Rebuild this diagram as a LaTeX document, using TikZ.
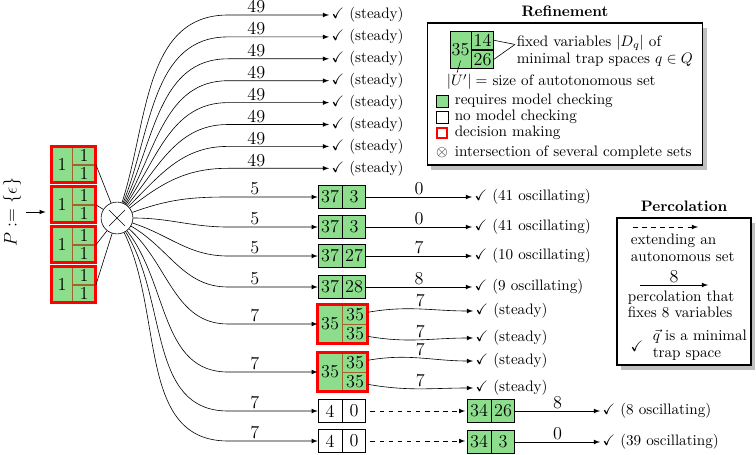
\documentclass[tikz,border=0pt]{standalone}
\usepackage{amssymb}
\usetikzlibrary{positioning,shadows,shapes.misc}

\definecolor{mcgreen}{RGB}{140,222,140}
\definecolor{splitline}{RGB}{160,100,40}

\tikzset{
  cell/.style={draw, fill=mcgreen, inner sep=0pt, font=\large, minimum height=15.2pt},
  nocheck/.style={cell, fill=white},
  dcell/.style={cell, draw=splitline},
  decision/.style={draw=red, line width=2pt},
  arr/.style={-latex},
  lbl/.style={above, inner sep=1pt, font=\large},
  res/.style={anchor=west, inner sep=1.5pt},
  txt/.style={anchor=west, align=left, inner sep=1pt},
  keybox/.style={draw, thick, fill=white,
    drop shadow={shadow xshift=2.5pt, shadow yshift=-3pt, fill=black!50, opacity=0.5}},
}

\begin{document}
\begin{tikzpicture}[x=0.66pt,y=0.66pt]
        \useasboundingbox (0,0) rectangle (756,-455);

        % Start
        \node [rotate=90, font=\large] (p) at (12,-212) {$P:=\{\epsilon\}$};

        % Initial complete sets
        \node [dcell, minimum width=13.2pt, minimum height=23.1pt] (i1) at (62,-164.5) {1};
        \node [dcell, minimum width=15.2pt, minimum height=11.55pt, below right=0pt and 0pt of i1.north east] (i1t) {1};
        \node [dcell, minimum width=15.2pt, minimum height=11.55pt, below=0pt of i1t] (i1b) {1};
        \draw [decision] (i1.north west) rectangle (i1b.south east);

        \node [dcell, minimum width=13.2pt, minimum height=23.1pt] (i2) at (62,-204.5) {1};
        \node [dcell, minimum width=15.2pt, minimum height=11.55pt, below right=0pt and 0pt of i2.north east] (i2t) {1};
        \node [dcell, minimum width=15.2pt, minimum height=11.55pt, below=0pt of i2t] (i2b) {1};
        \draw [decision] (i2.north west) rectangle (i2b.south east);

        \node [dcell, minimum width=13.2pt, minimum height=23.1pt] (i3) at (62,-244.5) {1};
        \node [dcell, minimum width=15.2pt, minimum height=11.55pt, below right=0pt and 0pt of i3.north east] (i3t) {1};
        \node [dcell, minimum width=15.2pt, minimum height=11.55pt, below=0pt of i3t] (i3b) {1};
        \draw [decision] (i3.north west) rectangle (i3b.south east);

        \node [dcell, minimum width=13.2pt, minimum height=23.1pt] (i4) at (62,-284.5) {1};
        \node [dcell, minimum width=15.2pt, minimum height=11.55pt, below right=0pt and 0pt of i4.north east] (i4t) {1};
        \node [dcell, minimum width=15.2pt, minimum height=11.55pt, below=0pt of i4t] (i4b) {1};
        \draw [decision] (i4.north west) rectangle (i4b.south east);

        \draw [arr, shorten >=4pt] (p) -- (p -| i2.west);

        % Intersection
        \node [circle, draw, minimum size=21pt, inner sep=0pt] (x) at (117,-218) {};
        \node [cross out, draw, minimum size=10pt, inner sep=0pt] (xc) at (x) {};
        \draw (i1t.south east) -- (x);
        \draw (i2t.south east) -- (x);
        \draw (i3t.south east) -- (x);
        \draw (i4t.south east) -- (x);

        \coordinate (bend) at (228,0);

        % Steady branches
        \foreach \y/\a [count=\i] in {15/72, 36.9/68, 58.8/64, 80.7/60, 102.6/56, 124.5/51, 146.4/45, 168.3/38} {
            \node [res] (s\i) at (329,-\y) {\checkmark\ (steady)};
            \draw [arr] (x) to[out=\a, in=180] (bend |- s\i.west) -- node [lbl, pos=0.28] {49} (s\i.west);
        }

        % Row 9
        \node [cell, minimum width=15.8pt] (a9) at (330,-197) {37};
        \node [cell, minimum width=15.2pt, right=0pt of a9] (b9) {3};
        \node [res] (s9) at (472,-197) {\checkmark\ (41 oscillating)};
        \draw [arr] (x) to[out=20, in=180] (bend |- a9.west) -- node [lbl, pos=0.3] {5} (a9.west);
        \draw [arr] (b9) -- node [lbl] {0} (s9);

        % Row 10
        \node [cell, minimum width=15.8pt] (a10) at (330,-227) {37};
        \node [cell, minimum width=15.2pt, right=0pt of a10] (b10) {3};
        \node [res] (s10) at (472,-227) {\checkmark\ (41 oscillating)};
        \draw [arr] (x) to[out=0, in=180] (bend |- a10.west) -- node [lbl, pos=0.3] {5} (a10.west);
        \draw [arr] (b10) -- node [lbl] {0} (s10);

        % Row 11
        \node [cell, minimum width=15.8pt] (a11) at (330,-256) {37};
        \node [cell, minimum width=15.2pt, right=0pt of a11] (b11) {27};
        \node [res] (s11) at (472,-256) {\checkmark\ (10 oscillating)};
        \draw [arr] (x) to[out=-18, in=180] (bend |- a11.west) -- node [lbl, pos=0.3] {5} (a11.west);
        \draw [arr] (b11) -- node [lbl] {7} (s11);

        % Row 12
        \node [cell, minimum width=15.8pt] (a12) at (330,-287) {37};
        \node [cell, minimum width=15.2pt, right=0pt of a12] (b12) {28};
        \node [res] (s12) at (472,-287) {\checkmark\ (9 oscillating)};
        \draw [arr] (x) to[out=-30, in=180] (bend |- a12.west) -- node [lbl, pos=0.3] {5} (a12.west);
        \draw [arr] (b12) -- node [lbl] {8} (s12);

        % Row 13, decision
        \node [dcell, minimum width=15.8pt, minimum height=25pt] (a13) at (330,-324) {35};
        \node [dcell, minimum width=16.5pt, minimum height=12.5pt, below right=0pt and 0pt of a13.north east] (t13) {35};
        \node [dcell, minimum width=16.5pt, minimum height=12.5pt, below=0pt of t13] (u13) {35};
        \draw [decision] (a13.north west) rectangle (u13.south east);
        \node [res] (s13) at (473,-311) {\checkmark\ (steady)};
        \node [res] (r13) at (473,-338) {\checkmark\ (steady)};
        \draw [arr] (x) to[out=-42, in=180] (bend |- a13.west) -- node [lbl, pos=0.3] {7} (a13.west);
        \draw [arr] (t13) to[out=10, in=180] node [lbl] {7} (s13);
        \draw [arr] (u13) to[out=-10, in=180] node [lbl] {7} (r13);

        % Row 14, decision
        \node [dcell, minimum width=15.8pt, minimum height=25pt] (a14) at (330,-372) {35};
        \node [dcell, minimum width=16.5pt, minimum height=12.5pt, below right=0pt and 0pt of a14.north east] (t14) {35};
        \node [dcell, minimum width=16.5pt, minimum height=12.5pt, below=0pt of t14] (u14) {35};
        \draw [decision] (a14.north west) rectangle (u14.south east);
        \node [res] (s14) at (473,-361) {\checkmark\ (steady)};
        \node [res] (r14) at (473,-388) {\checkmark\ (steady)};
        \draw [arr] (x) to[out=-52, in=180] (bend |- a14.west) -- node [lbl, pos=0.3] {7} (a14.west);
        \draw [arr] (t14) to[out=10, in=180] node [lbl] {7} (s14);
        \draw [arr] (u14) to[out=-10, in=180] node [lbl] {7} (r14);

        % Row 15, extended
        \node [nocheck, minimum width=15.8pt] (a15) at (330,-411) {4};
        \node [nocheck, minimum width=15.2pt, right=0pt of a15] (b15) {0};
        \node [cell, minimum width=15.8pt] (c15) at (479,-411) {34};
        \node [cell, minimum width=15.2pt, right=0pt of c15] (d15) {26};
        \node [res] (s15) at (600,-411) {\checkmark\ (8 oscillating)};
        \draw [arr] (x) to[out=-58, in=180] (bend |- a15.west) -- node [lbl, pos=0.3] {7} (a15.west);
        \draw [arr, dashed, shorten <=3pt, shorten >=1pt] (b15) -- (c15);
        \draw [arr] (d15) -- node [lbl] {8} (s15);

        % Row 16, extended
        \node [nocheck, minimum width=15.8pt] (a16) at (330,-441) {4};
        \node [nocheck, minimum width=15.2pt, right=0pt of a16] (b16) {0};
        \node [cell, minimum width=15.8pt] (c16) at (479,-442) {34};
        \node [cell, minimum width=15.2pt, right=0pt of c16] (d16) {3};
        \node [res] (s16) at (600,-442) {\checkmark\ (39 oscillating)};
        \draw [arr] (x) to[out=-64, in=180] (bend |- a16.west) -- node [lbl, pos=0.3] {7} (a16.west);
        \draw [arr, dashed, shorten <=3pt, shorten >=1pt] (b16) -- (b16 -| c16.west);
        \draw [arr] (d16) -- node [lbl] {0} (s16);

        % Key: refinement
        \node [keybox, minimum width=182pt, minimum height=93.7pt] (ref) at (565,-94) {};
        \node [above=0pt of ref, font=\bfseries] (reft) {Refinement};
        \node [cell, minimum width=13.9pt, minimum height=24.4pt] (l1) at (460.5,-49.5) {35};
        \node [cell, minimum width=14.5pt, minimum height=12.2pt, below right=0pt and 0pt of l1.north east] (l2) {14};
        \node [cell, minimum width=14.5pt, minimum height=12.2pt, below=0pt of l2] (l3) {26};
        \node [txt] (fix) at (515,-50.5) {fixed variables $|D_q|$ of\\[-1pt] minimal trap spaces $q\in Q$};
        \draw (l2.east) -- ([yshift=4pt]fix.west);
        \draw (l3.east) -- ([yshift=4pt]fix.west);
        \node [txt] (ul) at (445,-82) {$|U'|=$ size of autotonomous set};
        \draw ([yshift=5pt]l1.south) -- ([xshift=8pt]ul.north west);

        \node [cell, minimum size=8pt] (k1) at (442,-101) {};
        \node [txt] (k1t) at (453,-101) {requires model checking};
        \node [nocheck, minimum size=8pt] (k2) at (442,-117) {};
        \node [txt] (k2t) at (453,-117) {no model checking};
        \node [draw=red, line width=1.5pt, minimum size=7pt, inner sep=0pt] (k3) at (442,-133) {};
        \node [txt] (k3t) at (453,-133) {decision making};
        \node [inner sep=0pt] (k4) at (442,-153) {$\otimes$};
        \node [txt] (k4t) at (453,-153) {intersection of several complete sets};

        % Key: percolation
        \node [keybox, minimum width=88.4pt, minimum height=97pt] (perc) at (684,-291.5) {};
        \node [above=0pt of perc, font=\bfseries] (perct) {Percolation};
        \coordinate (pd1) at (633,-227);
        \coordinate (pd2) at (698,-227);
        \draw [arr, dashed] (pd1) -- (pd2);
        \node [txt] (pext) at (629,-248) {extending an\\[-1pt] autonomous set};
        \coordinate (pp1) at (640,-285);
        \coordinate (pp2) at (708,-285);
        \draw [arr] (pp1) -- node [lbl] {8} (pp2);
        \node [txt] (pfix) at (626,-304.5) {percolation that\\[-1pt] fixes 8 variables};
        \node (pchk) at (637,-346) {\checkmark};
        \node [txt] (ptrap) at (651,-345) {$\vec{q}$ is a minimal\\[-1pt] trap space};

    \end{tikzpicture}
\end{document}
